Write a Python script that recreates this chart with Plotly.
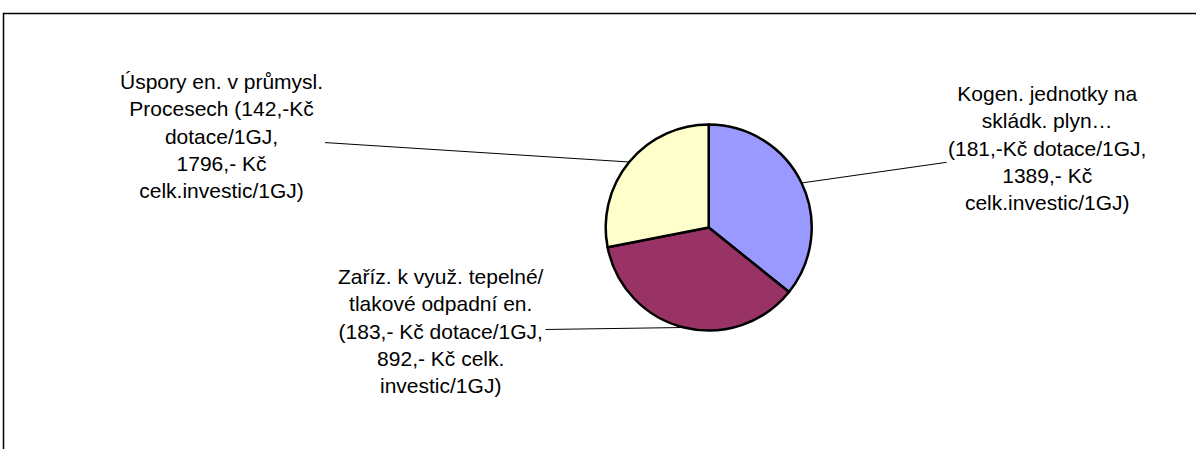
import math
import plotly.graph_objects as go

# data
labels = [
    "Kogen. jednotky na<br>skládk. plyn…<br>(181,-Kč dotace/1GJ,<br>1389,- Kč<br>celk.investic/1GJ)",
    "Zaříz. k využ. tepelné/<br>tlakové odpadní en.<br>(183,- Kč dotace/1GJ,<br>892,- Kč celk.<br>investic/1GJ)",
    "Úspory en. v průmysl.<br>Procesech (142,-Kč<br>dotace/1GJ,<br>1796,- Kč<br>celk.investic/1GJ)",
]
values = [181, 183, 142]
colors = ["#9999FF", "#993366", "#FFFFCC"]

W, H = 1196, 449
# pie geometry in pixels
cx, cy, r = 708.7, 227.5, 103
# label text centres in pixels
label_pos = [(1047, 148), (441, 331), (222, 136)]

fig = go.Figure()
fig.add_trace(go.Pie(
    labels=labels,
    values=values,
    sort=False,
    direction="clockwise",
    rotation=0,
    marker=dict(colors=colors, line=dict(color="black", width=2.5)),
    textinfo="none",
    hoverinfo="skip",
    showlegend=False,
    domain=dict(
        x=[(cx - r) / W, (cx + r) / W],
        y=[(H - cy - r) / H, (H - cy + r) / H],
    ),
))

# leader lines point at the middle of each slice edge
total = sum(values)
start = 90.0
annotations = []
for lab, v, (lx, ly) in zip(labels, values, label_pos):
    span = 360.0 * v / total
    mid = math.radians(start - span / 2)
    start -= span
    px = cx + r * math.cos(mid)
    py = cy - r * math.sin(mid)
    annotations.append(dict(
        x=px / W, y=1 - py / H, xref="paper", yref="paper",
        text=lab, showarrow=True, arrowhead=0, arrowwidth=1,
        arrowcolor="black", ax=lx - px, ay=ly - py,
        font=dict(family="Arial, Liberation Sans, sans-serif", size=21, color="black"),
        align="center",
    ))

fig.update_layout(
    width=W, height=H,
    margin=dict(l=0, r=0, t=0, b=0),
    paper_bgcolor="white",
    plot_bgcolor="white",
    annotations=annotations,
    shapes=[dict(
        type="rect", xref="paper", yref="paper",
        x0=3.5 / W, x1=1.05, y0=-0.05, y1=1 - 13.5 / H,
        line=dict(color="black", width=1.5),
    )],
)

# page has a default body margin; drop it so the figure sits at the top-left
fig.write_html(
    "out.html",
    config={"displayModeBar": False},
    post_script="document.body.style.margin='0';",
)
